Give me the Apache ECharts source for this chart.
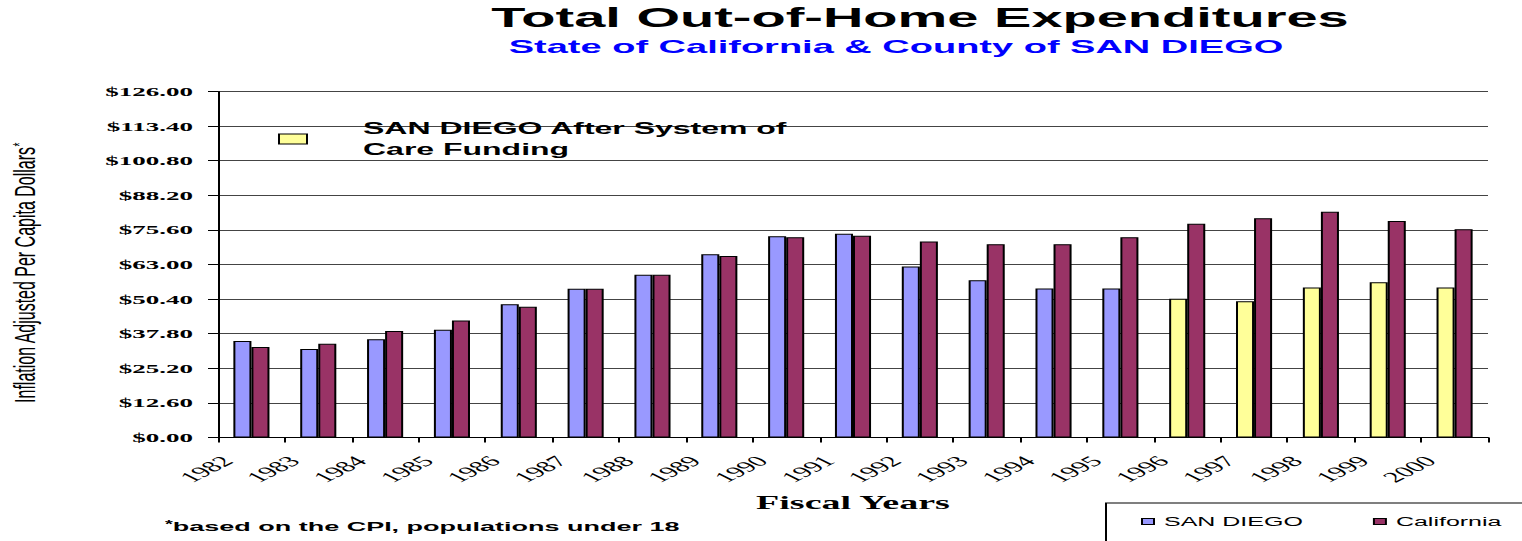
<!DOCTYPE html>
<html>
<head>
<meta charset="utf-8">
<title>Total Out-of-Home Expenditures</title>
<script src="https://cdn.jsdelivr.net/npm/echarts@6/dist/echarts.min.js"></script>
<style>
  html, body { margin: 0; padding: 0; background: #fff; overflow: hidden; }
  /* The chart is laid out at half width and stretched 2x horizontally,
     giving the wide, stretched look of the lettering and bars. */
  #chart { width: 761px; height: 541px; transform: scaleX(2); transform-origin: 0 0; }
</style>
</head>
<body>
<div id="chart"></div>
<script>
// Fiscal years on the category axis
const categories = ['1982', '1983', '1984', '1985', '1986', '1987', '1988', '1989', '1990', '1991',
  '1992', '1993', '1994', '1995', '1996', '1997', '1998', '1999', '2000'];

// Inflation adjusted per capita dollars
const sanDiego = [35.1, 32.2, 35.8, 39.2, 48.5, 54.2, 59.3, 66.7, 73.3, 74.2,
  62.3, 57.3, 54.3, 54.3, '-', '-', '-', '-', '-'];
const sanDiegoAfterSOC = ['-', '-', '-', '-', '-', '-', '-', '-', '-', '-',
  '-', '-', '-', '-', 50.5, 49.6, 54.6, 56.5, 54.6];
const california = [33.0, 34.1, 38.8, 42.6, 47.6, 54.2, 59.3, 66.1, 72.9, 73.5,
  71.4, 70.4, 70.4, 72.9, 77.8, 79.8, 82.2, 78.8, 75.8];

// Value axis tick labels, from $0.00 up in steps of $12.60
const yTickLabels = ['$0.00', '$12.60', '$25.20', '$37.80', '$50.40', '$63.00',
  '$75.60', '$88.20', '$100.80', '$113.40', '$126.00'];

const NAME_SD = 'SAN DIEGO';
const NAME_SD_AFTER = 'SAN DIEGO After System of Care Funding';
const NAME_CA = 'California';

const SANS = "'Liberation Sans', Arial, sans-serif";
const SERIF = "'Liberation Serif', 'Times New Roman', serif";

const chart = echarts.init(document.getElementById('chart'), null, { renderer: 'svg' });

const barBorder = { borderColor: '#000', borderWidth: 1 };

chart.setOption({
  backgroundColor: '#fff',
  animation: false,
  title: [
    {
      text: 'Total Out-of-Home Expenditures',
      left: 460, top: 3, textAlign: 'center', padding: 0,
      textStyle: { fontFamily: SANS, fontWeight: 'bold', fontSize: 28, color: '#000' }
    },
    {
      text: 'State of California & County of SAN DIEGO',
      left: 448, top: 37, textAlign: 'center', padding: 0,
      textStyle: { fontFamily: SANS, fontWeight: 'bold', fontSize: 19, color: '#0000ff' }
    },
    {
      text: '{s|*}{t|based on the CPI, populations under 18}',
      left: 82.5, top: 520, padding: 0,
      textStyle: {
        rich: {
          s: { fontFamily: SANS, fontWeight: 'bold', fontSize: 10, color: '#000', verticalAlign: 'top' },
          t: { fontFamily: SANS, fontWeight: 'bold', fontSize: 13.5, color: '#000' }
        }
      }
    }
  ],
  legend: [
    {
      data: [NAME_SD_AFTER],
      left: 139, top: 118, padding: 0,
      icon: 'rect', itemWidth: 14, itemHeight: 10,
      selectedMode: false,
      itemStyle: { borderColor: '#000', borderWidth: 1 },
      formatter: () => 'SAN DIEGO After System of\nCare Funding',
      textStyle: { fontFamily: SANS, fontWeight: 'bold', fontSize: 16, lineHeight: 21,
        color: '#000', padding: [0, 0, 0, 23] }
    },
    {
      data: [NAME_SD, NAME_CA],
      left: 553, top: 503, width: 220,
      padding: [12, 300, 30, 17.5],
      borderColor: '#000', borderWidth: 1,
      icon: 'rect', itemWidth: 6, itemHeight: 6, itemGap: 35,
      selectedMode: false,
      itemStyle: { borderColor: '#000', borderWidth: 1 },
      textStyle: { fontFamily: SANS, fontSize: 12.5, color: '#000' }
    }
  ],
  grid: { left: 109, right: 17, top: 91.5, bottom: 103.5, containLabel: false },
  xAxis: {
    type: 'category',
    data: categories,
    boundaryGap: true,
    name: 'Fiscal Years',
    nameLocation: 'middle',
    nameGap: 54,
    nameTextStyle: { fontFamily: SERIF, fontWeight: 'bold', fontSize: 19, lineHeight: 20, color: '#000' },
    axisLine: { show: true, lineStyle: { color: '#000', width: 1 } },
    axisTick: { show: true, length: 5, lineStyle: { color: '#000' } },
    axisLabel: {
      interval: 0, rotate: 45, margin: 9, padding: [0, 17, 0, 0],
      fontFamily: SERIF, fontSize: 15, color: '#000'
    },
    splitLine: { show: false }
  },
  yAxis: {
    type: 'value',
    min: 0, max: 126, interval: 12.6,
    axisLine: { show: true, lineStyle: { color: '#000', width: 1 } },
    axisTick: { show: true, length: 5, lineStyle: { color: '#000' } },
    axisLabel: {
      margin: 12.5,
      fontFamily: SERIF, fontWeight: 'bold', fontSize: 13.5, color: '#000',
      formatter: (v, i) => yTickLabels[i]
    },
    splitLine: { show: true, lineStyle: { color: '#444', width: 1 } }
  },
  graphic: [
    {
      // vertical axis title, drawn narrow so it stays slim after the stretch
      type: 'text',
      x: 12.5, y: 273,
      rotation: Math.PI / 2,
      scaleY: 0.9,
      style: {
        text: '{a|Inflation Adjusted Per Capita Dollars}{s|*}',
        align: 'center', verticalAlign: 'middle',
        rich: {
          a: { fontFamily: SANS, fontSize: 16, fill: '#000', color: '#000' },
          s: { fontFamily: SANS, fontSize: 10, fill: '#000', color: '#000', verticalAlign: 'top' }
        }
      }
    }
  ],
  series: [
    {
      name: NAME_SD, type: 'bar', stack: 'sd',
      data: sanDiego, barWidth: '27%', barGap: '0%',
      itemStyle: Object.assign({ color: '#9999ff' }, barBorder)
    },
    {
      name: NAME_SD_AFTER, type: 'bar', stack: 'sd',
      data: sanDiegoAfterSOC, barWidth: '27%', barGap: '0%',
      itemStyle: Object.assign({ color: '#ffff99' }, barBorder)
    },
    {
      name: NAME_CA, type: 'bar',
      data: california, barWidth: '27%', barGap: '0%',
      itemStyle: Object.assign({ color: '#993366' }, barBorder)
    }
  ]
});
</script>
</body>
</html>
